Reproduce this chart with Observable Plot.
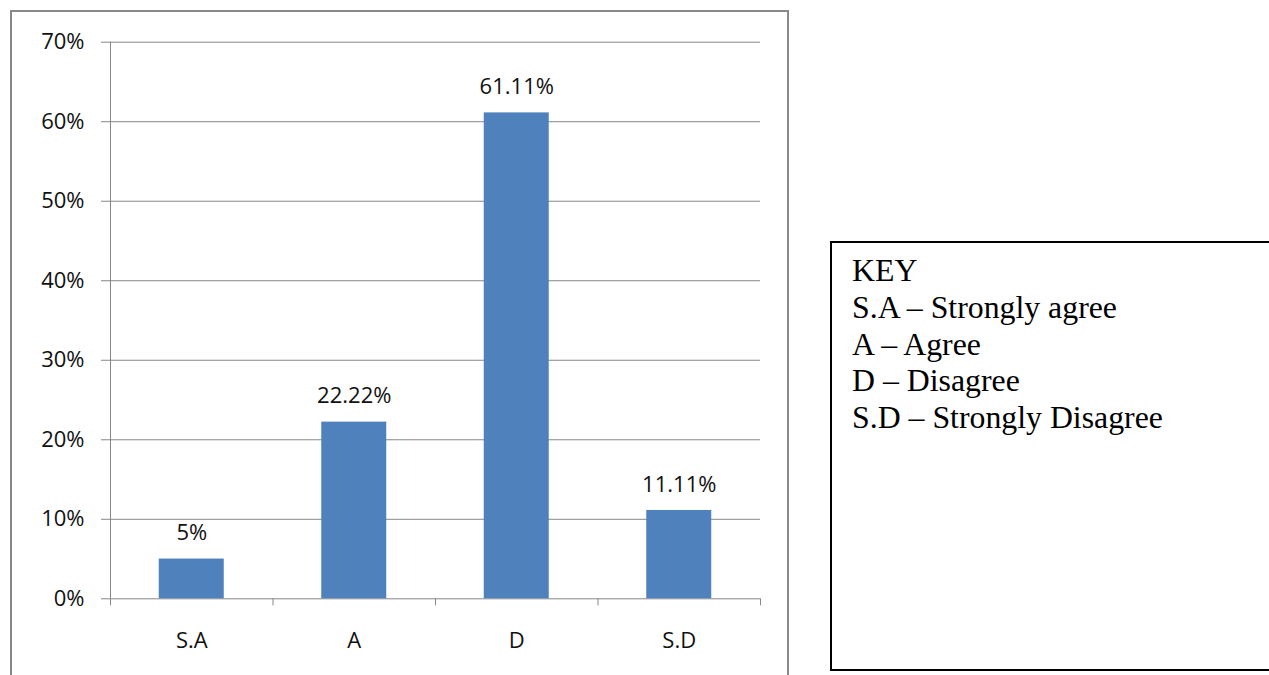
<!DOCTYPE html>
<html><head><meta charset="utf-8">
<script src="https://cdn.jsdelivr.net/npm/d3@7"></script>
<script src="https://cdn.jsdelivr.net/npm/@observablehq/plot@0.6"></script>
<style>
html,body{margin:0;padding:0;background:#fff;width:1269px;height:675px;overflow:hidden}
#wrap{position:relative;width:1269px;height:675px}
#chart{position:absolute;left:0;top:0}
#border{position:absolute;left:10px;top:10px;height:700px;border:2px solid #898989;border-bottom:none;box-sizing:border-box;width:779px}
#key{position:absolute;left:830px;top:241px;width:480px;height:430px;border:2px solid #000;box-sizing:border-box;
  font-family:"Liberation Serif","Times New Roman",serif;font-size:31.8px;line-height:36.8px;padding:10px 0 0 20px;color:#000}
</style></head>
<body>
<div id="wrap">
  <div id="chart"></div>
  <div id="border"></div>
  <div id="key"></div>
</div>
<script>
const categories = ["S.A", "A", "D", "S.D"];
const values = [0.05, 0.2222, 0.6111, 0.1111];
const valueLabels = ["5%", "22.22%", "61.11%", "11.11%"];
const yTicks = [0, 0.1, 0.2, 0.3, 0.4, 0.5, 0.6, 0.7];
const keyLines = ["KEY", "S.A – Strongly agree", "A – Agree", "D – Disagree", "S.D – Strongly Disagree"];

const data = categories.map((c, i) => ({i, cat: c, value: values[i], label: valueLabels[i]}));
const grid = "#868686";

const chart = Plot.plot({
  width: 800,
  height: 675,
  marginLeft: 110,
  marginRight: 40,
  marginTop: 41.7,
  marginBottom: 76.7,
  style: {fontFamily: "'Open Sans', sans-serif", fontSize: "22px", color: "#111", background: "transparent"},
  x: {domain: [0, categories.length], label: null},
  y: {domain: [0, 0.7], label: null},
  marks: [
    Plot.ruleY(yTicks, {stroke: grid, strokeWidth: 1}),
    Plot.ruleX([0], {y1: 0, y2: 0.7, stroke: grid}),
    Plot.axisY({ticks: yTicks, tickFormat: d3.format(".0%"), tickSize: 9, tickPadding: 17, stroke: grid, fill: "#111", fontSize: 22, label: null}),
    Plot.axisX({ticks: d3.range(0, categories.length + 1), tickSize: 7, tickFormat: () => "", stroke: grid, label: null}),
    Plot.axisX({ticks: data.map(d => d.i + 0.5), tickFormat: v => categories[Math.floor(v)], tickSize: 0, tickPadding: 34, fill: "#111", fontSize: 22, label: null}),
    Plot.rectY(data, {x1: d => d.i + 0.3, x2: d => d.i + 0.7, y: "value", fill: "#4F81BD"}),
    Plot.text(data, {x: d => d.i + 0.5, y: "value", text: "label", dy: -26, fill: "#111", fontSize: 22})
  ]
});
document.getElementById("chart").appendChild(chart);

const key = document.getElementById("key");
keyLines.forEach(t => { const d = document.createElement("div"); d.textContent = t; key.appendChild(d); });
</script>
</body></html>
